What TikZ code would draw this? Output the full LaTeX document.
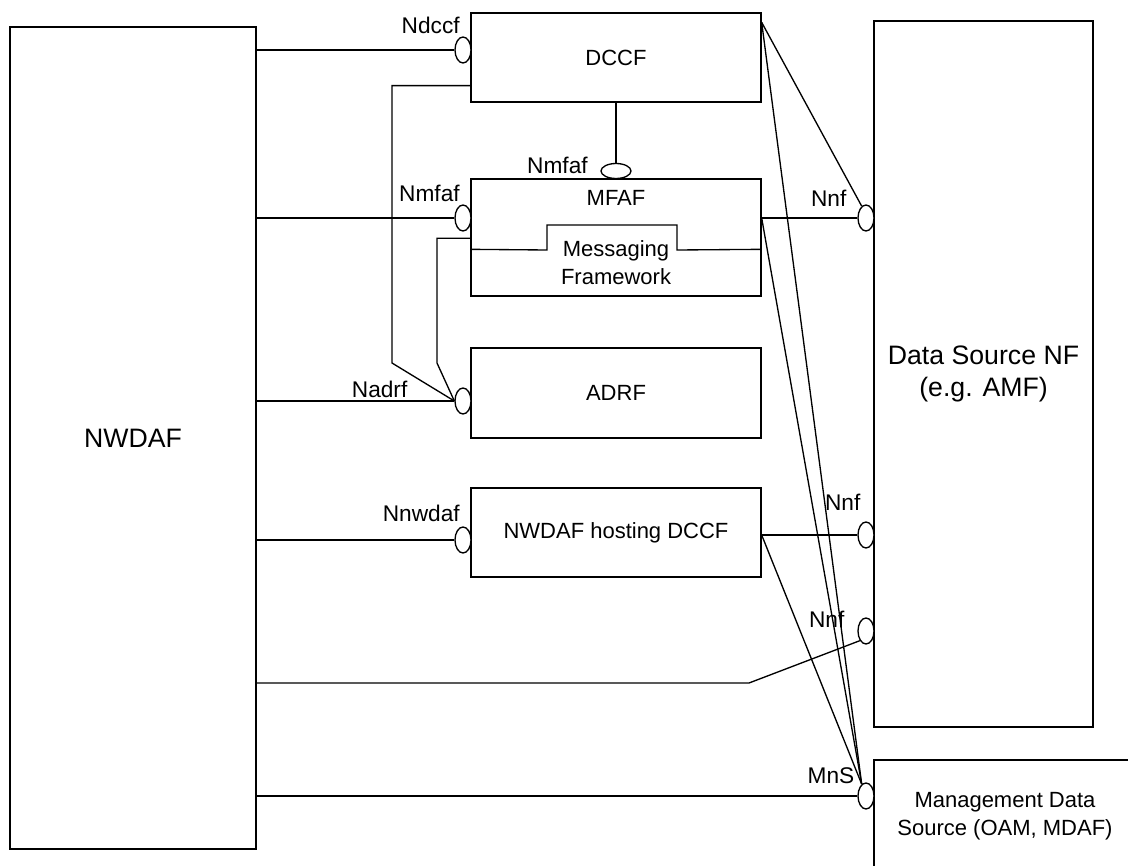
\documentclass[tikz,border=0pt]{standalone}
\usepackage{fontspec}
\setmainfont{Liberation Sans}
\usetikzlibrary{positioning}
\usetikzlibrary{shapes.geometric}
\tikzset{
    box/.style={draw, inner sep=0pt, align=center, font=\fontsize{16.5}{21}\selectfont},
    bigbox/.style={box, font=\fontsize{20}{23.5}\selectfont},
    socket/.style={draw, ellipse, fill=white, inner sep=0pt, minimum width=12pt, minimum height=19.5pt},
    iface/.style={inner sep=0pt, font=\fontsize{17}{20}\selectfont}
}

\begin{document}
\begin{tikzpicture}[x=0.75pt, y=-0.75pt, line width=1pt]
    \useasboundingbox (0,0) rectangle (1128,866);

    \node (nwdaf) at (133,438) [bigbox, minimum width=184.5pt, minimum height=616.5pt] {NWDAF};
    \node (dccf) at (616,57.5) [box, minimum width=217.5pt, minimum height=66.75pt] {DCCF};
    \node (mfaf) at (616,237.5) [box, minimum width=217.5pt, minimum height=87.75pt] {};
    \node (mfaftxt) at ([yshift=-15pt]mfaf.north) [box, draw=none] {MFAF};
    \node (msgfw) at (616,263) [box, draw=none] {Messaging\\Framework};
    \node (adrf) at (616,393) [box, minimum width=217.5pt, minimum height=67.5pt] {ADRF};
    \node (hosting) at (616,532.5) [box, minimum width=217.5pt, minimum height=66.75pt] {NWDAF hosting DCCF};
    \node (dsnf) at (983.5,374) [bigbox, minimum width=164.25pt, minimum height=529.5pt] {Data Source NF\\(e.g. AMF)};
    \node (mgmt) at (1005,816) [box, minimum width=196.5pt, minimum height=84pt] {Management Data\\Source (OAM, MDAF)};

    \node (ndccf) at (463,50) [socket] {};
    \node (nmfaftop) at (616,171) [socket, minimum width=22.5pt, minimum height=11.25pt] {};
    \node (nmfaf) at (463,218) [socket] {};
    \node (nadrf) at (463,401) [socket] {};
    \node (nnwdaf) at (463,540) [socket] {};
    \node (nnf1) at (866,218) [socket] {};
    \node (nnf2) at (866,535) [socket] {};
    \node (nnf3) at (866,631) [socket] {};
    \node (mns) at (866,796) [socket] {};

    \node (lndccf) at ([xshift=-2pt,yshift=1.5pt]ndccf.north) [iface, anchor=south east] {Ndccf};
    \node (lnmfaftop) [iface, left=9pt of nmfaftop, yshift=4.5pt] {Nmfaf};
    \node (lnmfaf) at ([xshift=-2pt,yshift=1.5pt]nmfaf.north) [iface, anchor=south east] {Nmfaf};
    \node (lnadrf) at (408,397) [iface, anchor=base east] {Nadrf};
    \node (lnnwdaf) at ([xshift=-2pt,yshift=3pt]nnwdaf.north) [iface, anchor=south east] {Nnwdaf};
    \node (lnnf1) at (847,207) [iface, anchor=base east] {Nnf};
    \node (lnnf2) at (861,510) [iface, anchor=base east] {Nnf};
    \node (lnnf3) at (845,627) [iface, anchor=base east] {Nnf};
    \node (lmns) at (855,783) [iface, anchor=base east] {MnS};

    \coordinate (dccfout) at ([yshift=-7.5pt]dccf.north east);
    \coordinate (mfafout) at (mfaf.east |- nnf1);
    \coordinate (hostout) at (hosting.east |- nnf2);
    \coordinate (dccfdrop) at (392,363);
    \coordinate (mfafdrop) at (437,363);
    \coordinate (bend) at (749,683);

    \draw ([yshift=-53.25pt]mfaf.north west) -- (547,250) -- (547,225) -- (677,225) -- (677,250) -- ([yshift=-53.25pt]mfaf.north east);

    \path [draw] (nwdaf.east |- ndccf) -- (ndccf);
    \path [draw] (nwdaf.east |- nmfaf) -- (nmfaf);
    \path [draw] (nwdaf.east |- nadrf) -- (nadrf);
    \path [draw] (nwdaf.east |- nnwdaf) -- (nnwdaf);
    \path [draw] (nwdaf.east |- bend) -- (bend) -- (nnf3.south west);
    \path [draw] (nwdaf.east |- mns) -- (mns);

    \path [draw] (dccf.south) -- (nmfaftop.north);
    \path [draw] ([yshift=12.75pt]dccf.south west) -| (dccfdrop) -- (nadrf.west);
    \path [draw] ([yshift=-45pt]mfaf.north west) -| (mfafdrop) -- (nadrf.west);

    \path [draw] (dccfout) -- (nnf1.110);
    \path [draw] (dccfout) -- (mns.110);
    \path [draw] (mfafout) -- (nnf1);
    \path [draw] (mfafout) -- (mns.110);
    \path [draw] (hostout) -- (nnf2);
    \path [draw] (hostout) -- (mns.110);
\end{tikzpicture}
\end{document}
